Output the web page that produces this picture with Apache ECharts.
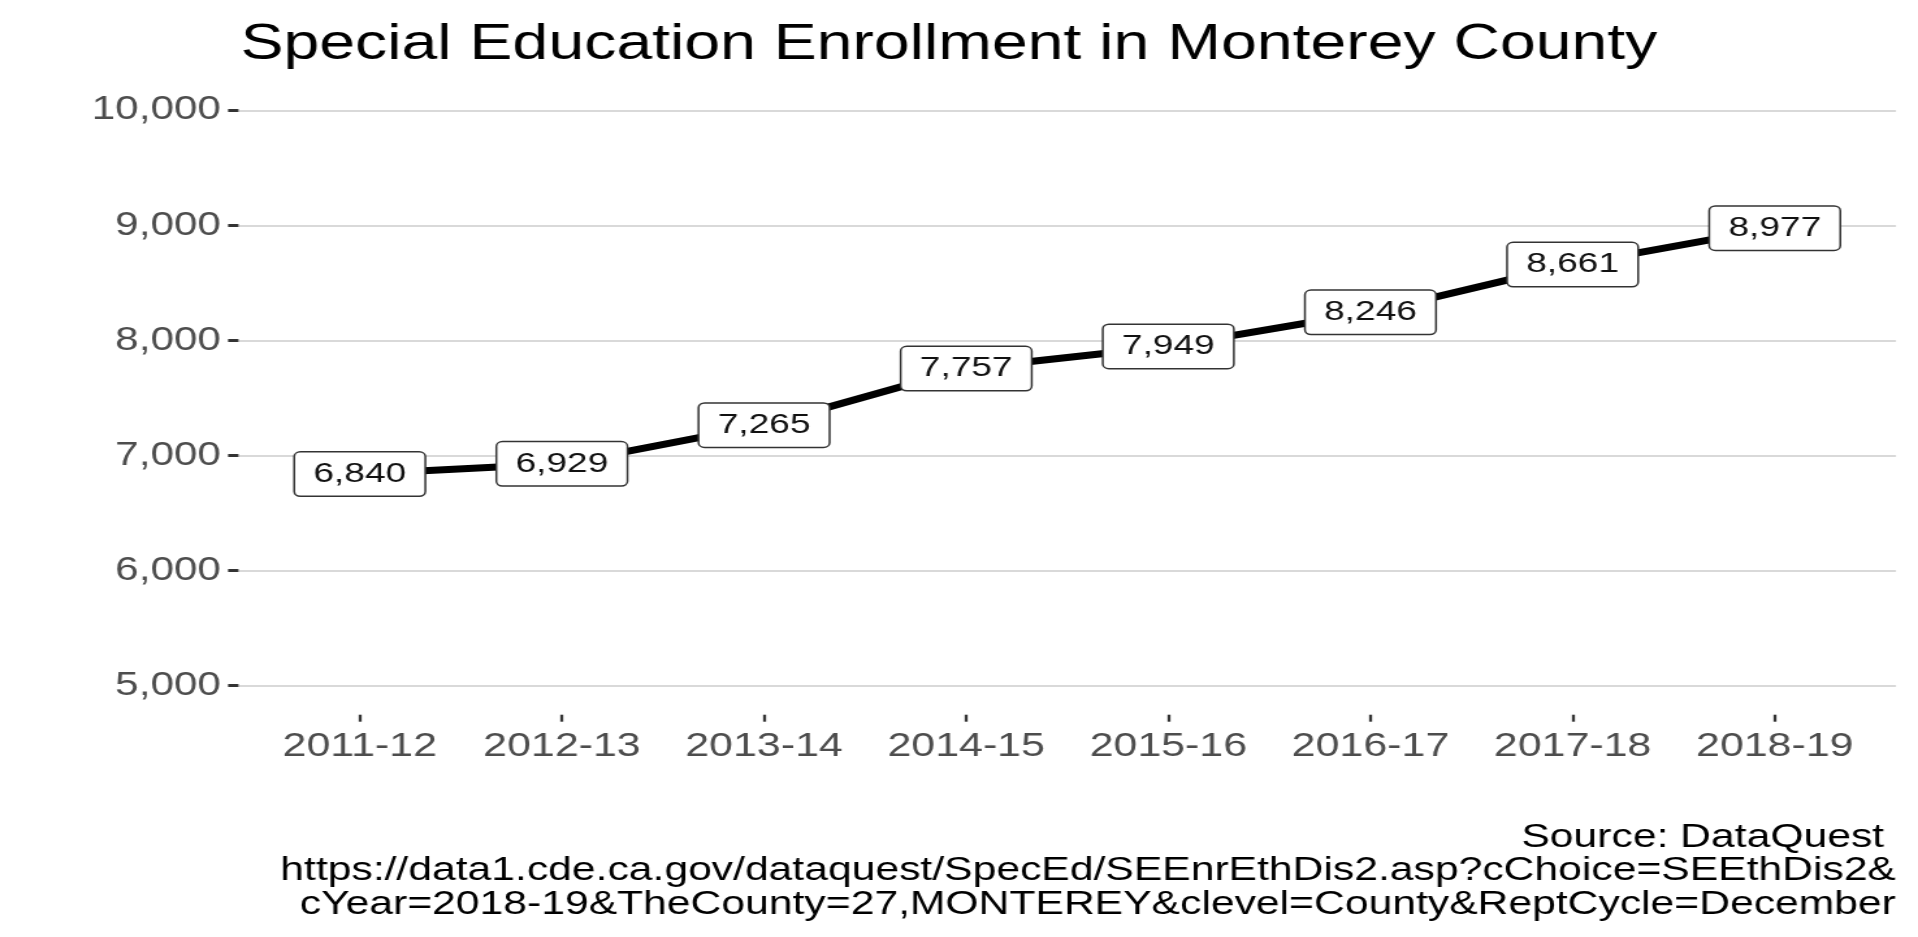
<!DOCTYPE html>
<html>
  <head>
    <meta charset="utf-8" />
    <title>Special Education Enrollment in Monterey County</title>
    <script src="https://cdn.jsdelivr.net/npm/echarts@6/dist/echarts.min.js"></script>
    <style>
    html, body {margin:0; padding:0; background:#fff; overflow:hidden;}
    /* the reference is drawn wide, so the chart is stretched sideways */
    #chart {width:1475px; height:937px; transform:scaleX(1.30034); transform-origin:0 0;}
    </style>
  </head>
<body>
<div id="chart"></div>
<script type="text/javascript">
// data
var years = ['2011-12', '2012-13', '2013-14', '2014-15', '2015-16', '2016-17', '2017-18', '2018-19'];
var enrollment = [6840, 6929, 7265, 7757, 7949, 8246, 8661, 8977];
var yTicks = [5000, 6000, 7000, 8000, 9000, 10000];
var caption = 'Source: DataQuest \nhttps://data1.cde.ca.gov/dataquest/SpecEd/SEEnrEthDis2.asp?cChoice=SEEthDis2&\ncYear=2018-19&TheCounty=27,MONTEREY&clevel=County&ReptCycle=December';

var fmt = function (v) {
  return String(v).replace(/(\d)(?=(\d{3})+$)/g, '$1,');
};

var chart = echarts.init(document.getElementById('chart'));

var points = [];
for (var i = 0; i < years.length; i++) {
  points.push([i, enrollment[i]]);
}
var idx = years.map(function (y, i) { return i; });

option = {
  animation: false,
  textStyle: {fontFamily: '"Liberation Sans", Arial, sans-serif'},
  title: {
    text: 'Special Education Enrollment in Monterey County',
    left: 185,
    top: 20,
    padding: 0,
    textStyle: {fontSize: 49.5, fontWeight: 'normal', color: '#000'}
  },
  grid: {left: 183.4, right: 16.9, top: 110.5, bottom: 251.3},
  xAxis: {
    type: 'value',
    min: -0.6,
    max: 7.6,
    offset: 29,
    axisLine: {show: false},
    splitLine: {show: false},
    axisTick: {show: true, length: 7, customValues: idx, lineStyle: {color: '#333', width: 2.3}},
    axisLabel: {
      customValues: idx,
      margin: 16,
      fontSize: 33,
      color: '#4d4d4d',
      formatter: function (v) { return years[v]; }
    }
  },
  yAxis: {
    type: 'value',
    min: yTicks[0],
    max: yTicks[yTicks.length - 1],
    interval: 1000,
    axisLine: {show: false, onZero: false},
    axisTick: {show: true, length: 8, lineStyle: {color: '#333', width: 3}},
    axisLabel: {margin: 13.5, fontSize: 32.5, color: '#4d4d4d', formatter: fmt},
    splitLine: {lineStyle: {color: '#d9d9d9', width: 2}}
  },
  series: [
    {
      type: 'line',
      data: points,
      symbol: 'circle',
      symbolSize: 1,
      itemStyle: {color: '#000'},
      lineStyle: {color: '#000', width: 7},
      label: {
        show: true,
        position: 'inside',
        fontSize: 28.5,
        lineHeight: 29,
        color: '#111',
        backgroundColor: '#fff',
        borderColor: '#333',
        borderWidth: 1.5,
        borderRadius: 4,
        padding: [7, 14],
        formatter: function (p) { return fmt(p.value[1]); }
      }
    }
  ],
  graphic: [
    {
      type: 'text',
      x: 1458,
      y: 871,
      style: {
        text: caption,
        align: 'right',
        verticalAlign: 'middle',
        font: '32.8px "Liberation Sans", Arial, sans-serif',
        lineHeight: 33.5,
        fill: '#000'
      }
    }
  ]
};
chart.setOption(option);
</script>
</body>
</html>
